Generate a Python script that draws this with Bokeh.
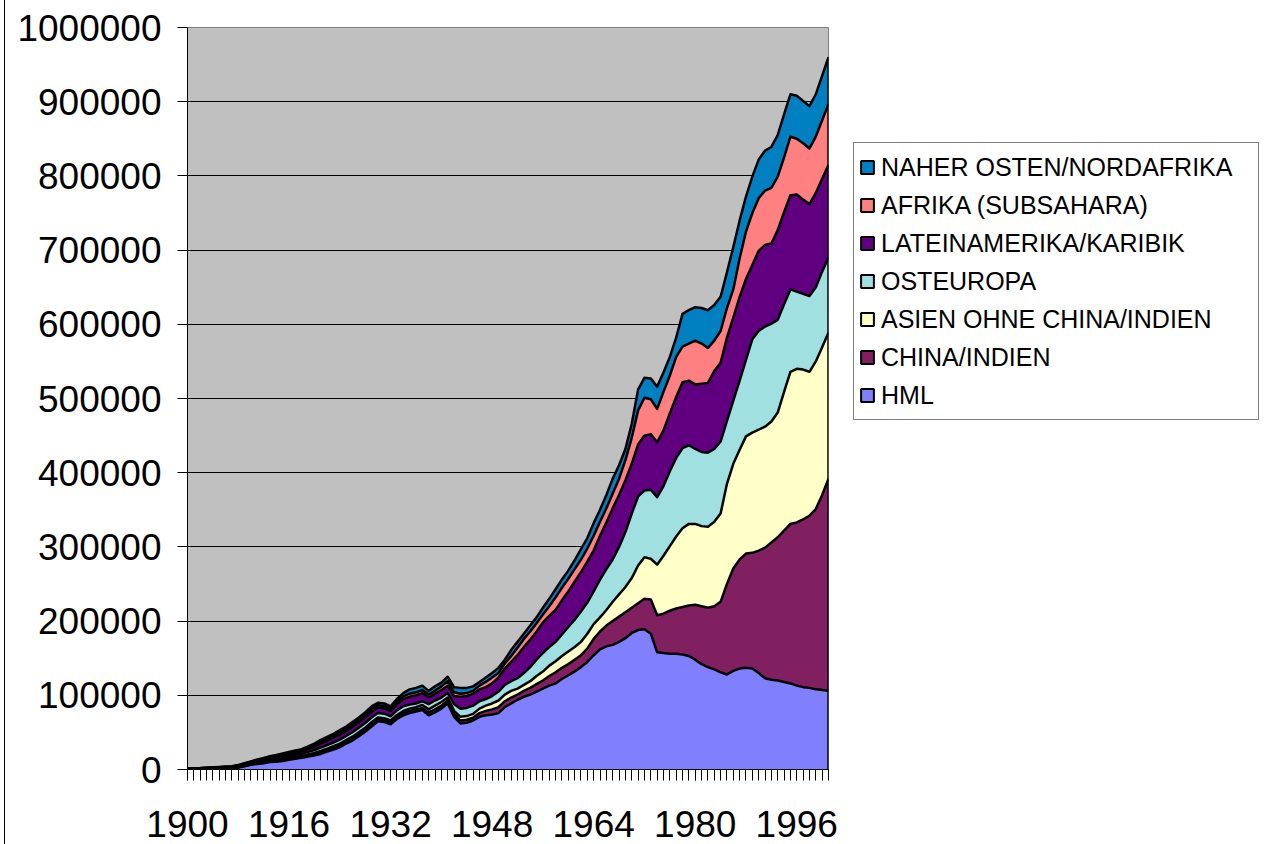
from bokeh.plotting import figure
from bokeh.models import (ColumnDataSource, FixedTicker, NumeralTickFormatter,
                          Legend, LegendItem, Range1d)
from bokeh.embed import file_html
from bokeh.resources import INLINE

# ---------------- data (values in thousands) -------------
years = list(range(1900, 2002))

hml = [0.3, 0.4, 0.5, 0.6, 0.7, 0.8, 0.9, 1.0, 2.5, 4.5,
       6.5, 7.5, 8.5, 10, 10.5, 11.5, 13, 14.5, 15.7, 17.5,
       19, 21, 24, 27, 30, 35, 39, 45, 51, 58,
       65, 64, 61, 68, 73, 76, 78, 80, 73, 77,
       82, 89, 71, 62, 63, 66, 71, 73, 74, 76,
       84, 89, 94, 98, 101, 105, 109, 113, 116, 122,
       127, 132, 138, 145, 154, 162, 166, 168, 172, 177,
       184, 188, 189, 183, 158, 157, 156, 156, 155, 153,
       148, 142, 138, 135, 131, 128, 133, 136, 137, 136,
       130, 123, 121, 120, 118, 116, 113, 111, 110, 108,
       107, 106]

china_indien = [0.2, 0.2, 0.2, 0.3, 0.3, 0.4, 0.4, 0.5, 0.5, 0.6,
                0.6, 0.8, 0.9, 1.0, 1.1, 1.2, 1.3, 1.4, 1.5, 1.7,
                2.0, 2.3, 2.4, 2.5, 2.7, 2.7, 2.9, 2.9, 3.0, 3.1,
                2.9, 2.9, 2.8, 3.0, 3.0, 3.0, 3, 3, 4, 4,
                4, 4, 4, 4, 4, 4, 5, 6, 7, 8,
                8, 8, 7, 8, 9, 10, 11, 13, 15, 15,
                15, 16, 16, 18, 22, 24, 28, 32, 34, 35,
                34, 36, 41, 46, 50, 53, 58, 61, 64, 68,
                74, 78, 80, 85, 95, 122, 138, 147, 154, 156,
                165, 176, 185, 193, 204, 215, 220, 226, 232, 243,
                263, 286]

asien = [0.1, 0.1, 0.1, 0.2, 0.2, 0.2, 0.3, 0.3, 0.3, 0.4,
         0.4, 0.5, 0.6, 0.7, 0.8, 0.9, 0.9, 1.0, 1.0, 1.2,
         1.4, 1.7, 1.8, 1.9, 2.1, 2.1, 2.3, 2.3, 2.4, 2.5,
         2.3, 2.3, 2.2, 2.5, 2.8, 3.0, 3, 4, 4, 5,
         5, 4, 4, 5, 5, 5, 6, 7, 8, 9,
         9, 9, 8, 8, 9, 11, 12, 14, 15, 16,
         17, 17, 18, 20, 20, 19, 21, 26, 30, 34,
         40, 51, 56, 55, 68, 78, 87, 97, 106, 110,
         109, 108, 109, 114, 119, 135, 141, 148, 158, 162,
         163, 163, 163, 168, 187, 205, 207, 202, 194, 199,
         199, 197]

osteuropa = [0.3, 0.4, 0.4, 0.5, 0.6, 0.7, 0.8, 0.9, 0.9, 1.0,
             1.1, 1.5, 1.7, 2.0, 2.2, 2.5, 2.6, 2.7, 2.9, 3.3,
             3.9, 4.6, 4.8, 5.0, 5.5, 5.5, 6.0, 6.0, 6.2, 6.4,
             6.0, 6.0, 5.8, 6.2, 6.4, 5.6, 5, 5, 7, 7,
             6, 6, 9, 11, 11, 11, 10, 9, 10, 12,
             13, 13, 14, 16, 19, 22, 25, 25, 26, 29,
             33, 37, 41, 42, 44, 51, 55, 57, 64, 74,
             87, 93, 90, 93, 91, 94, 101, 106, 108, 106,
             101, 100, 100, 98, 97, 85, 85, 93, 103, 126,
             133, 135, 132, 125, 118, 111, 104, 102, 102, 100,
             102, 101]

lateinamerika = [0.3, 0.4, 0.4, 0.5, 0.6, 0.7, 0.8, 0.9, 0.9, 1.0,
                 1.2, 1.6, 1.9, 2.2, 2.5, 2.8, 3.0, 3.1, 3.4, 3.9,
                 4.6, 5.5, 5.8, 6.1, 6.7, 6.7, 7.3, 7.3, 7.6, 7.9,
                 7.3, 7.3, 7.0, 8.2, 9.6, 10.6, 11, 11, 9, 9,
                 10, 10, 11, 16, 16, 16, 16, 16, 17, 19,
                 22, 26, 31, 35, 37, 38, 41, 42, 43, 46,
                 48, 51, 53, 55, 55, 59, 63, 69, 70, 70,
                 67, 70, 74, 75, 74, 75, 78, 82, 89, 87,
                 87, 92, 94, 105, 106, 112, 112, 113, 109, 100,
                 108, 110, 108, 121, 124, 127, 131, 127, 124, 127,
                 125, 125]

afrika = [0.1, 0.1, 0.2, 0.2, 0.3, 0.4, 0.4, 0.5, 0.5, 0.5,
          0.6, 0.8, 1.0, 1.1, 1.2, 1.3, 1.4, 1.4, 1.5, 1.7,
          2.0, 2.4, 2.5, 2.7, 2.9, 2.9, 3.1, 3.1, 3.3, 3.4,
          3.1, 3.1, 3.0, 3.4, 3.8, 4.0, 4, 4, 4, 4,
          5, 6, 5, 4, 4, 4, 5, 7, 8, 6,
          7, 8, 10, 11, 11, 11, 11, 13, 17, 17,
          17, 17, 17, 18, 20, 19, 19, 20, 22, 27,
          35, 46, 51, 47, 45, 52, 51, 54, 48, 50,
          59, 54, 47, 41, 43, 40, 38, 52, 64, 70,
          71, 73, 75, 72, 74, 79, 75, 76, 75, 76,
          79, 82]

naher_osten = [0.2, 0.2, 0.2, 0.2, 0.3, 0.3, 0.4, 0.4, 0.4, 0.5,
               0.6, 0.8, 0.9, 1.0, 1.2, 1.3, 1.3, 1.4, 1.5, 1.7,
               2.1, 2.5, 2.7, 2.8, 3.1, 3.1, 3.4, 3.4, 3.5, 3.7,
               3.4, 3.4, 3.2, 3.7, 4.4, 5.8, 6, 6, 5, 6,
               5, 6, 7, 8, 7, 6, 5, 6, 6, 7,
               5, 8, 8, 7, 8, 8, 9, 10, 11, 11,
               11, 12, 14, 14, 17, 16, 18, 20, 18, 15,
               19, 28, 27, 28, 30, 26, 25, 26, 44, 45,
               45, 48, 51, 48, 46, 48, 57, 51, 47, 49,
               52, 54, 55, 56, 58, 57, 58, 57, 57, 57,
               60, 63]

series_names = ["HML", "CHINA/INDIEN", "ASIEN OHNE CHINA/INDIEN", "OSTEUROPA",
                "LATEINAMERIKA/KARIBIK", "AFRIKA (SUBSAHARA)", "NAHER OSTEN/NORDAFRIKA"]
series_values = [hml, china_indien, asien, osteuropa, lateinamerika, afrika, naher_osten]
colors = ["#8080FF", "#802060", "#FFFFC8", "#A0E0E0", "#600080", "#FF8080", "#0080C0"]

x_label_years = [1900, 1916, 1932, 1948, 1964, 1980, 1996]
y_ticks = [0, 100000, 200000, 300000, 400000, 500000, 600000, 700000, 800000, 900000, 1000000]
UNIT = 1000

# ---------------- build ---------------------------------------------------------
keys = ["s%d" % i for i in range(len(series_names))]
data = {"year": years}
for k, vals in zip(keys, series_values):
    data[k] = [v * UNIT for v in vals]
source = ColumnDataSource(data)

p = figure(frame_width=641, frame_height=742,
           x_range=Range1d(years[0], years[-1]), y_range=Range1d(y_ticks[0], y_ticks[-1]),
           output_backend="svg", toolbar_location=None,
           min_border_left=182, min_border_right=0,
           min_border_top=27, min_border_bottom=75)
p.styles = {"margin-left": "4px", "border-left": "1px solid black",
            "border-right": "1px solid black"}
p.background_fill_color = "#C0C0C0"
p.border_fill_color = "white"
p.outline_line_color = "#808080"

p.varea_stack(keys, x="year", color=colors, source=source)
p.vline_stack(keys, x="year", line_color="black", line_width=2.5, line_join="round",
              source=source)
last_total = sum(data[k][-1] for k in keys)
p.segment(x0=[years[-1]], x1=[years[-1]], y0=[0], y1=[last_total],
          line_color="black", line_width=2.5)

# axes
FONT = "Liberation Sans"
p.xaxis.ticker = FixedTicker(ticks=x_label_years, minor_ticks=years)
p.xaxis.major_tick_out = 11
p.xaxis.major_tick_in = 0
p.xaxis.minor_tick_out = 11
p.xaxis.minor_tick_in = 0
p.xaxis.minor_tick_line_color = "black"
p.xaxis.major_label_standoff = 30
p.yaxis.ticker = FixedTicker(ticks=y_ticks)
p.yaxis.formatter = NumeralTickFormatter(format="0")
p.yaxis.major_tick_out = 10
p.yaxis.major_tick_in = 0
p.yaxis.minor_tick_out = 0
p.yaxis.minor_tick_in = 0
p.yaxis.major_label_standoff = 16
for ax in (p.xaxis, p.yaxis):
    ax.axis_line_color = "black"
    ax.axis_line_width = 1
    ax.major_tick_line_color = "black"
    ax.major_label_text_font = FONT
    ax.major_label_text_font_size = "37px"
    ax.major_label_text_color = "black"

p.xgrid.visible = False
p.ygrid.ticker = FixedTicker(ticks=y_ticks)
p.ygrid.grid_line_color = "black"
p.ygrid.grid_line_width = 1

# legend (reverse order, squares with black outline), placed in right panel.
# proxy quads sit outside the x range, they only provide the legend swatches
proxy_x = [years[0] - 50]
items = []
for name, c in reversed(list(zip(series_names, colors))):
    r = p.quad(left=proxy_x, right=proxy_x, top=[0], bottom=[0], fill_color=c,
               line_color="black", line_width=2)
    items.append(LegendItem(label=name, renderers=[r]))
legend = Legend(items=items, location=(25, 349))
legend.label_text_font = FONT
legend.label_text_font_size = "25px"
legend.label_text_color = "black"
legend.glyph_width = 16
legend.glyph_height = 16
legend.label_height = 38
legend.label_width = 372
legend.label_standoff = 6
legend.spacing = 0
legend.padding = 5
legend.margin = 0
legend.border_line_color = "black"
legend.border_line_width = 1
legend.background_fill_color = "white"
legend.background_fill_alpha = 1.0
p.add_layout(legend, "right")

open("out.html", "w").write(file_html(p, INLINE))
